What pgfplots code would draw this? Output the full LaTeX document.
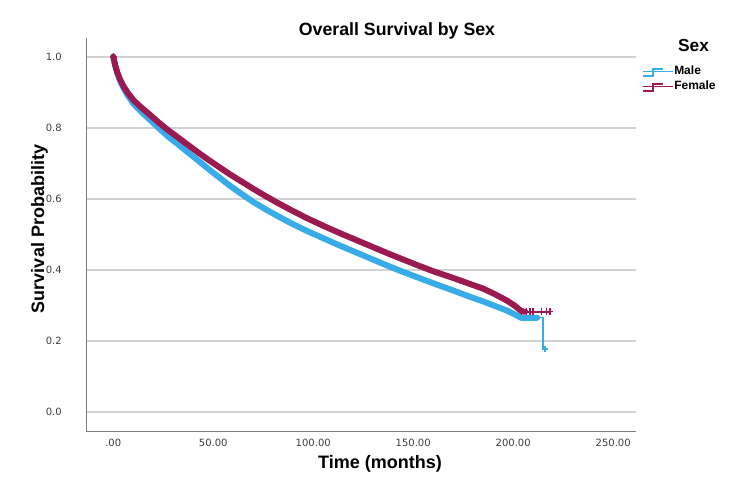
\documentclass[border=0pt]{standalone}
\usepackage{fontspec}
\setmainfont{Liberation Sans}
\newfontfamily\tickfont{DejaVu Sans}
\usepackage{pgfplots}
\pgfplotsset{compat=1.18}
\definecolor{male}{RGB}{55,172,232}
\definecolor{female}{RGB}{155,26,82}
\definecolor{gridc}{RGB}{210,210,210}
\definecolor{axc}{RGB}{125,125,125}
\definecolor{tickc}{RGB}{60,60,60}
\begin{document}
\begin{tikzpicture}
\path[use as bounding box] (0,0) rectangle (562.5pt,377.25pt);
\begin{axis}[
  at={(65pt,53.5pt)}, anchor=south west,
  scale only axis, width=412pt, height=295.3pt,
  xmin=-13.3, xmax=261.4, ymin=-0.0554, ymax=1.0526,
  axis x line*=bottom, axis y line*=left,
  axis line style={draw=axc, line width=0.8pt, -},
  xtick={0,50,100,150,200,250},
  xticklabels={.00,50.00,100.00,150.00,200.00,250.00},
  ytick={0,0.2,0.4,0.6,0.8,1.0},
  yticklabels={0.0,0.2,0.4,0.6,0.8,1.0},
  major tick length=0pt,
  ymajorgrids,
  grid style={draw=gridc, line width=1.4pt},
  xticklabel style={anchor=center, yshift=-8.5pt, font=\tickfont\fontsize{7.5}{9}\selectfont, text=tickc, inner sep=0pt},
  yticklabel style={anchor=east, xshift=-18.5pt, font=\tickfont\fontsize{7.5}{9}\selectfont, text=tickc, inner sep=0pt},
  /pgf/number format/assume math mode=true,
  clip=false,
  legend image code/.code={\draw[#1, line width=1.5pt] (0pt,-3.5pt) -- (7.5pt,-3.5pt) -- (7.5pt,1.5pt) -- (15pt,1.5pt); \path (0pt,0pt) -- (22pt,0pt);},
  legend style={at={(1.011,0.934)}, anchor=north west, draw=none, fill=none, inner sep=0pt, row sep=1.5pt, font=\bfseries\fontsize{9}{10}\selectfont, nodes={inner sep=1pt}},
  legend cell align=left,
]
\addlegendimage{draw=male}
\addlegendentry{Male}
\addlegendimage{draw=female}
\addlegendentry{Female}

% Male
\addplot[draw=male, line width=4.5pt, line join=round, line cap=round, forget plot] coordinates {
(0,1.000)(1,0.974)(2,0.954)(3.3,0.933)(5,0.913)(7,0.893)(10,0.868)(14,0.845)(18,0.824)(22,0.803)(27,0.777)(32,0.755)(37,0.732)(43,0.705)(48,0.682)(53,0.660)(58,0.638)(64,0.614)(70,0.591)(76,0.571)(82,0.552)(89,0.531)(97,0.509)(105,0.489)(113,0.469)(121,0.450)(129,0.431)(137,0.412)(145,0.394)(153,0.377)(161,0.360)(169,0.344)(177,0.327)(185,0.311)(191,0.298)(197,0.285)(201,0.274)(204,0.265)(212,0.265)
};
\addplot[draw=male, line width=1pt, forget plot] coordinates {
(212,0.265)(214.9,0.265)(214.9,0.177)(215.9,0.177)
};
\addplot[draw=male, only marks, mark=+, mark size=2.5pt, mark options={line width=1pt}, forget plot] coordinates {
(205,0.265)(208.4,0.265)(209.9,0.265)(215.9,0.177)
};

% Female
\addplot[draw=female, line width=4.5pt, line join=round, line cap=round, forget plot] coordinates {
(0,1.000)(1,0.975)(2,0.956)(3.3,0.937)(5,0.918)(7,0.900)(10,0.878)(14,0.857)(18,0.838)(22,0.818)(27,0.795)(32,0.774)(37,0.753)(43,0.728)(48,0.708)(53,0.689)(58,0.670)(64,0.649)(70,0.628)(76,0.608)(82,0.589)(89,0.568)(97,0.545)(105,0.524)(113,0.504)(121,0.485)(129,0.466)(137,0.447)(145,0.429)(153,0.411)(161,0.394)(169,0.379)(177,0.363)(185,0.347)(191,0.331)(197,0.313)(201,0.298)(204,0.284)(206,0.282)
};
\addplot[draw=female, line width=1.2pt, forget plot] coordinates {
(206,0.282)(218.4,0.282)
};
\addplot[draw=female, only marks, mark=+, mark size=2.5pt, mark options={line width=1pt}, forget plot] coordinates {
(0,1.0)(204.2,0.282)(206.7,0.282)(208.4,0.282)(209.9,0.282)(214.2,0.282)(216.7,0.282)(218.4,0.282)
};
\end{axis}
\node[anchor=base, font=\bfseries\fontsize{13.3}{16}\selectfont] at (297.75pt,350.6pt) {Overall Survival by Sex};
\node[anchor=base, rotate=90, font=\bfseries\fontsize{13.5}{16}\selectfont] at (33pt,205.5pt) {Survival Probability};
\node[anchor=base, font=\bfseries\fontsize{13.5}{16}\selectfont] at (285pt,25.5pt) {Time (months)};
\node[anchor=base, font=\bfseries\fontsize{13}{16}\selectfont] at (520.1pt,338.5pt) {Sex};
\end{tikzpicture}
\end{document}
